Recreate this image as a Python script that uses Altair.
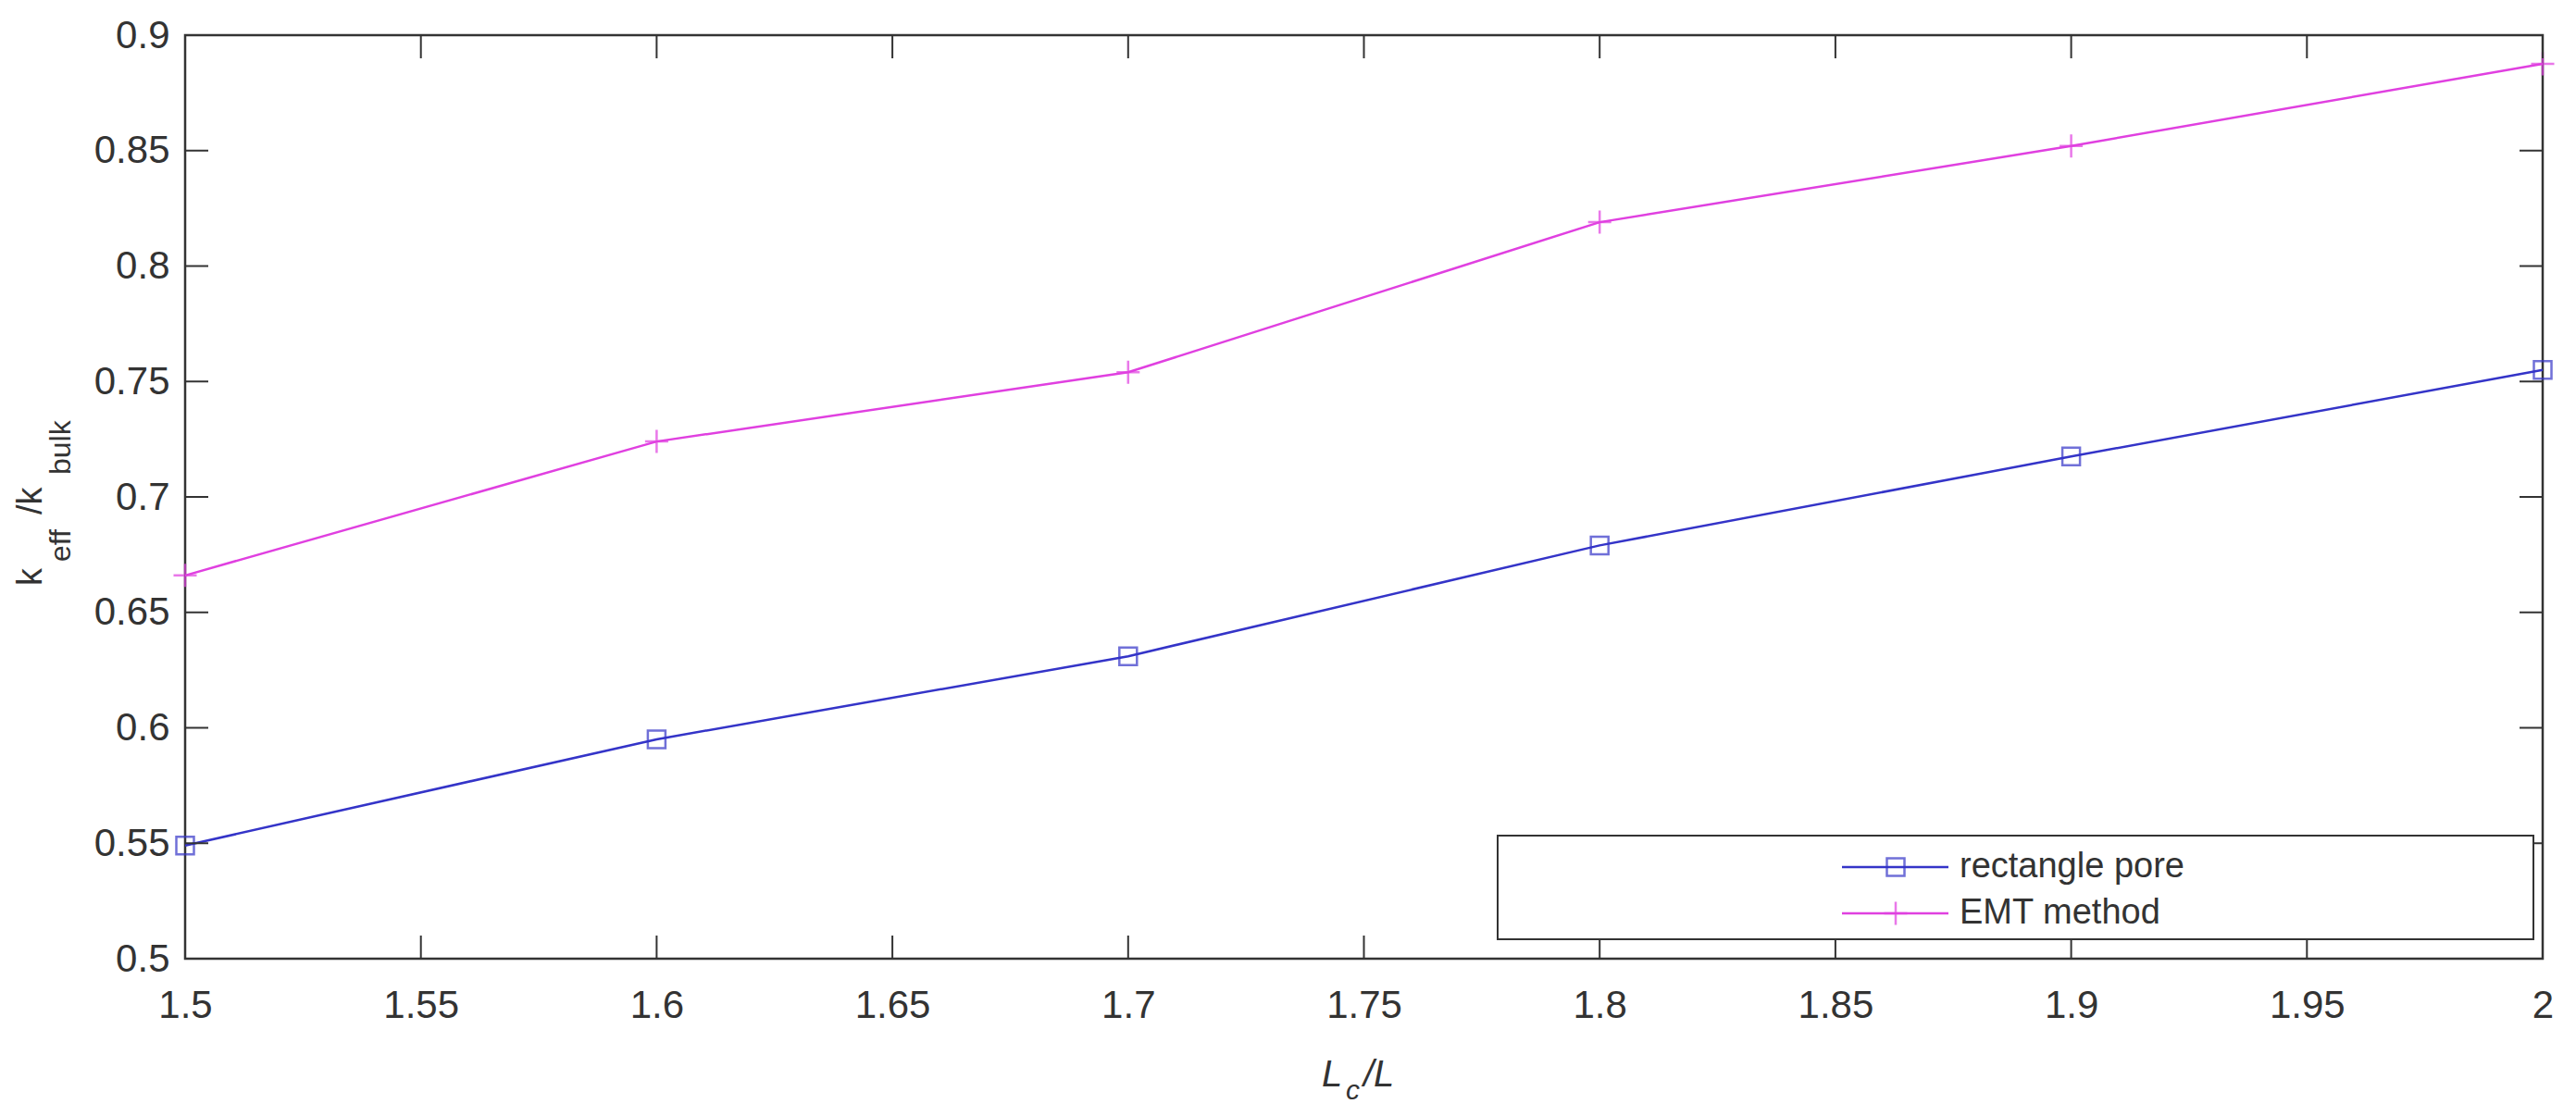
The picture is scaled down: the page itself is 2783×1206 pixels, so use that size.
import altair as alt
import pandas as pd

# ---- data ----
x_values = [1.5, 1.6, 1.7, 1.8, 1.9, 2.0]
rect_pore = [0.549, 0.595, 0.631, 0.679, 0.7175, 0.755]
emt_method = [0.666, 0.724, 0.754, 0.819, 0.852, 0.8876]
series_names = ["rectangle pore", "EMT method"]
series_colors = ["#3434c8", "#e040e0"]
x_ticks = [1.5, 1.55, 1.6, 1.65, 1.7, 1.75, 1.8, 1.85, 1.9, 1.95, 2.0]
y_ticks = [0.5, 0.55, 0.6, 0.65, 0.7, 0.75, 0.8, 0.85, 0.9]

W, H = 2547, 998
AX = "#333333"
FONT = "Liberation Sans"
PLUS = "M-1,0L1,0M0,-1L0,1"
TICK = 25

df = pd.DataFrame({
    "x": x_values + x_values,
    "y": rect_pore + emt_method,
    "series": [series_names[0]] * len(x_values) + [series_names[1]] * len(x_values),
})

xs = alt.Scale(domain=[1.5, 2.0], nice=False, zero=False)
ys = alt.Scale(domain=[0.5, 0.9], nice=False, zero=False)
color = alt.Color("series:N", scale=alt.Scale(domain=series_names, range=series_colors), legend=None)

x_axis = alt.Axis(values=x_ticks, format=".2~f", title=None, ticks=False, domain=False, grid=False,
                  labelFontSize=42, labelPadding=30, labelColor=AX, labelFont=FONT,
                  labelFlush=False, labelOverlap=False)
y_axis = alt.Axis(values=y_ticks, format=".2~f", title=None, ticks=False, domain=False, grid=False,
                  labelFontSize=42, labelPadding=17, labelColor=AX, labelFont=FONT,
                  labelFlush=False, labelOverlap=False)

def X(f):
    return alt.X(f, scale=xs, axis=x_axis)

def Y(f):
    return alt.Y(f, scale=ys, axis=y_axis)

base = alt.Chart(df)
lines = base.mark_line(strokeWidth=2.5).encode(x=X("x:Q"), y=Y("y:Q"), color=color)
pts_sq = base.transform_filter(alt.datum.series == series_names[0]).mark_point(
    shape="square", filled=False, strokeWidth=2.5, size=361).encode(
    x=X("x:Q"), y=Y("y:Q"), color=color)
pts_plus = base.transform_filter(alt.datum.series == series_names[1]).mark_point(
    shape=PLUS, filled=False, strokeWidth=2.5, size=625).encode(
    x=X("x:Q"), y=Y("y:Q"), color=color)

tx = pd.DataFrame({"x": x_ticks})
ty = pd.DataFrame({"y": y_ticks})
tick_bottom = alt.Chart(tx).mark_rule(color=AX, strokeWidth=2).encode(
    x=X("x:Q"), y=alt.value(H), y2=alt.value(H - TICK))
tick_top = alt.Chart(tx).mark_rule(color=AX, strokeWidth=2).encode(
    x=X("x:Q"), y=alt.value(0), y2=alt.value(TICK))
tick_left = alt.Chart(ty).mark_rule(color=AX, strokeWidth=2).encode(
    y=Y("y:Q"), x=alt.value(0), x2=alt.value(TICK))
tick_right = alt.Chart(ty).mark_rule(color=AX, strokeWidth=2).encode(
    y=Y("y:Q"), x=alt.value(W), x2=alt.value(W - TICK))

one = pd.DataFrame({"a": [0]})

def txt(s, x, y, size, **kw):
    return alt.Chart(one).mark_text(font=FONT, fontSize=size, color=AX, align="left", **kw).encode(
        text=alt.value(s), x=alt.value(x), y=alt.value(y))

# y-axis title: k_eff /k_bulk (rotated)
ytitle = [
    txt("k", -155, 595, 38, angle=270, baseline="alphabetic"),
    txt("eff", -124, 569, 32, angle=270, baseline="alphabetic"),
    txt("/k", -155, 518, 38, angle=270, baseline="alphabetic"),
    txt("bulk", -124, 475, 32, angle=270, baseline="alphabetic"),
]
# x-axis title: L_c/L (italic)
xtitle = [
    txt("L", 1228, 1136, 40, fontStyle="italic", baseline="alphabetic"),
    txt("c", 1254, 1150, 30, fontStyle="italic", baseline="alphabetic"),
    txt("/L", 1273, 1136, 40, fontStyle="italic", baseline="alphabetic"),
]

# legend box
leg_box = alt.Chart(one).mark_rect(fill="white", stroke=AX, strokeWidth=2).encode(
    x=alt.value(1418), x2=alt.value(2537), y=alt.value(865), y2=alt.value(977))
legend_layers = [leg_box]
row_y = [899, 949]
shapes = ["square", PLUS]
sizes = [361, 625]
for i in range(2):
    legend_layers.append(alt.Chart(one).mark_rule(color=series_colors[i], strokeWidth=2.5).encode(
        x=alt.value(1790), x2=alt.value(1905), y=alt.value(row_y[i])))
    legend_layers.append(alt.Chart(one).mark_point(shape=shapes[i], filled=False, strokeWidth=2.5,
                                                   size=sizes[i], color=series_colors[i]).encode(
        x=alt.value(1848), y=alt.value(row_y[i])))
    legend_layers.append(txt(series_names[i], 1917, row_y[i], 38, baseline="middle"))

chart = alt.layer(
    lines, pts_sq, pts_plus, tick_bottom, tick_top, tick_left, tick_right,
    *ytitle, *xtitle, *legend_layers
).properties(
    width=W, height=H,
    autosize="none",
    padding={"left": 192, "top": 30, "right": 28, "bottom": 160},
    background="white",
).configure_view(stroke=AX, strokeWidth=2.5)

chart.save("out.html", embed_options={"renderer": "svg", "actions": False})
